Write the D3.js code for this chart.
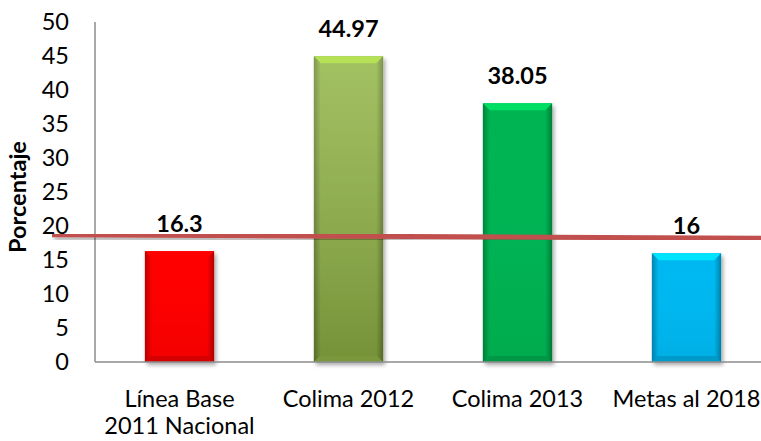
<!DOCTYPE html>
<html lang="es">
<head>
<meta charset="utf-8">
<script src="https://cdn.jsdelivr.net/npm/d3@7"></script>
<style>
  html, body { margin: 0; padding: 0; background: #fff; }
  svg { display: block; }
  text { font-family: Lato, "Open Sans", sans-serif; fill: #000; }
</style>
</head>
<body>
<svg id="chart" width="761" height="441"></svg>
<script>
// Categories (multi-line labels) and their percentage values
const categorias = [["Línea Base", "2011 Nacional"], ["Colima 2012"], ["Colima 2013"], ["Metas al 2018"]];
const valores = [16.3, 44.97, 38.05, 16];
const colores = ["#FF0000", "#92B646", "#00B451", "#00B8F1"];
const ticksY = [0, 5, 10, 15, 20, 25, 30, 35, 40, 45, 50];
// Reference line: value at its left and right end
const lineaReferencia = [18.7, 18.2];

const svg = d3.select("#chart");
const margin = { left: 95, top: 22, bottom: 362 };
const right = 771;

const x = d3.scaleBand().domain(d3.range(valores.length)).range([margin.left, right]).paddingInner(0.59).paddingOuter(0.295);
const y = d3.scaleLinear().domain([0, 50]).range([margin.bottom, margin.top]);

const defs = svg.append("defs");

// Soft shadow for bars and line
const sh = defs.append("filter").attr("id", "sombra").attr("x", "-20%").attr("y", "-20%").attr("width", "150%").attr("height", "150%");
sh.append("feGaussianBlur").attr("in", "SourceAlpha").attr("stdDeviation", 2.2);
sh.append("feOffset").attr("dx", 2).attr("dy", 3).attr("result", "b");
sh.append("feComponentTransfer").append("feFuncA").attr("type", "linear").attr("slope", 0.35);
const m = sh.append("feMerge");
m.append("feMergeNode");
m.append("feMergeNode").attr("in", "SourceGraphic");

// Per-bar gradients: horizontal edge shading and vertical tint
colores.forEach((c, i) => {
  const base = d3.color(c);
  const gh = defs.append("linearGradient").attr("id", "gh" + i).attr("x1", 0).attr("x2", 1).attr("y1", 0).attr("y2", 0);
  gh.append("stop").attr("offset", "0%").attr("stop-color", base.darker(0.9));
  gh.append("stop").attr("offset", "10%").attr("stop-color", base);
  gh.append("stop").attr("offset", "90%").attr("stop-color", base);
  gh.append("stop").attr("offset", "100%").attr("stop-color", base.darker(1.0));
  const gv = defs.append("linearGradient").attr("id", "gv" + i).attr("x1", 0).attr("x2", 0).attr("y1", 0).attr("y2", 1);
  gv.append("stop").attr("offset", "0%").attr("stop-color", "#fff").attr("stop-opacity", i === 1 ? 0.15 : 0.0);
  gv.append("stop").attr("offset", "100%").attr("stop-color", "#000").attr("stop-opacity", i === 1 ? 0.2 : 0.05);
});

// Y axis labels
svg.append("g").selectAll("text").data(ticksY).join("text")
  .attr("x", 69).attr("y", d => y(d) + 8)
  .attr("text-anchor", "end").attr("font-size", 23.5).text(d => d);

// Axis title
svg.append("text")
  .attr("transform", "translate(26,197) rotate(-90)")
  .attr("text-anchor", "middle").attr("font-size", 23.5).attr("font-weight", "bold")
  .text("Porcentaje");

// Bars
const bw = x.bandwidth();
const barras = svg.append("g").selectAll("g").data(valores).join("g").attr("filter", "url(#sombra)");
barras.append("rect")
  .attr("x", (d, i) => x(i)).attr("y", d => y(d))
  .attr("width", bw).attr("height", d => y(0) - y(d))
  .attr("fill", (d, i) => `url(#gh${i})`);
barras.append("rect")
  .attr("x", (d, i) => x(i)).attr("y", d => y(d))
  .attr("width", bw).attr("height", d => y(0) - y(d))
  .attr("fill", (d, i) => `url(#gv${i})`);
// top bevel
barras.append("path")
  .attr("d", (d, i) => {
    const x0 = x(i), x1 = x(i) + bw, t = y(d), k = 7;
    return `M${x0},${t}L${x1},${t}L${x1 - k},${t + k}L${x0 + k},${t + k}Z`;
  })
  .attr("fill", (d, i) => d3.color(colores[i]).brighter(0.6));
// bottom bevel
barras.append("path")
  .attr("d", (d, i) => {
    const x0 = x(i), x1 = x(i) + bw, b = y(0), k = 6;
    return `M${x0},${b}L${x1},${b}L${x1 - k},${b - k}L${x0 + k},${b - k}Z`;
  })
  .attr("fill", (d, i) => d3.color(colores[i]).darker(0.5));

// Axes lines
svg.append("line").attr("x1", margin.left).attr("x2", margin.left).attr("y1", y(50)).attr("y2", y(0))
  .attr("stroke", "#8c8c8c").attr("stroke-width", 1.5);
svg.append("line").attr("x1", margin.left).attr("x2", 761).attr("y1", y(0)).attr("y2", y(0))
  .attr("stroke", "#8c8c8c").attr("stroke-width", 1.5);

// Value labels
svg.append("g").selectAll("text").data(valores).join("text")
  .attr("x", (d, i) => x(i) + bw / 2).attr("y", d => y(d) - 19.5)
  .attr("text-anchor", "middle").attr("font-size", 23.5).attr("font-weight", "bold")
  .text(d => d);

// Reference line
svg.append("line")
  .attr("x1", 52).attr("x2", 761)
  .attr("y1", y(lineaReferencia[0])).attr("y2", y(lineaReferencia[1]))
  .attr("stroke", "#C0504D").attr("stroke-width", 5).attr("filter", "url(#sombra)");

// Category labels
const cat = svg.append("g").selectAll("text").data(categorias).join("text")
  .attr("text-anchor", "middle").attr("font-size", 23.5);
cat.selectAll("tspan").data((d, i) => d.map(t => ({ t, i }))).join("tspan")
  .attr("x", d => x(d.i) + bw / 2)
  .attr("y", (d, j) => 407 + j * 27)
  .text(d => d.t);
</script>
</body>
</html>
